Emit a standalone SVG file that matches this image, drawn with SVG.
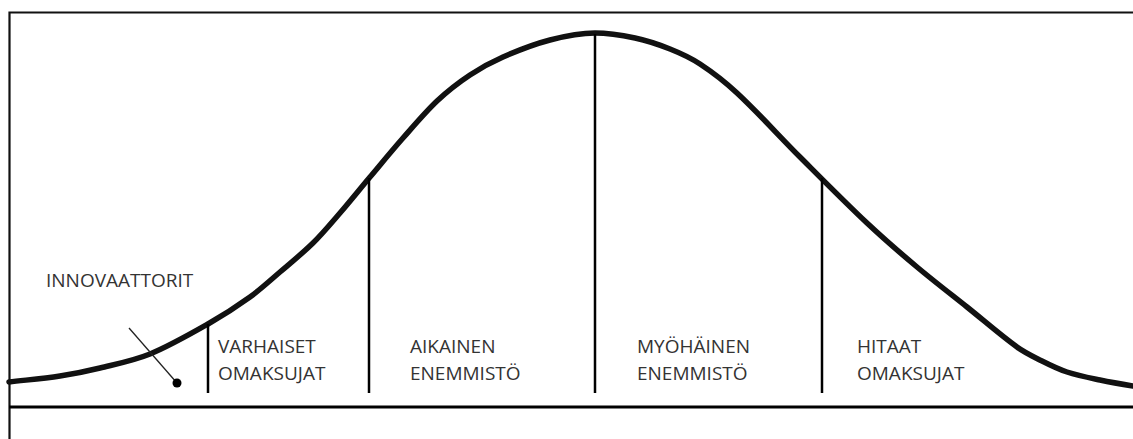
<svg xmlns="http://www.w3.org/2000/svg" width="1133" height="439" viewBox="0 0 1133 439">
<style>
.lbl{font-family:"Open Sans","Liberation Sans",sans-serif;font-size:19px;fill:#333}
.div{stroke:#000;stroke-width:2.5;fill:none}
.frame{stroke:#111;stroke-width:2.2;fill:none}
</style>
<rect width="1133" height="439" fill="#fff"/>
<g id="frame">
<path class="frame" d="M9.5 440 V12.5 H1140"/>
<line x1="9" y1="407" x2="1140" y2="407" stroke="#000" stroke-width="3"/>
</g>
<g id="curve">
<path d="M9 382 C26 380 43 378.6 60 376 C73.3 373.9 86.7 371.3 100 368 C116.7 363.9 133.3 360.8 150 354 C169.3 346.1 188.7 335 208 324 C222 316 236 307.1 250 297 C260 289.8 270 280.6 280 272 C291 262.6 302 253.8 313 243 C322 234.2 331 223.4 340 213 C350 201.4 360 188.9 370 177 C381 163.9 392 150.5 403 138 C414.3 125.2 425.7 111.7 437 101 C448 90.7 459 82.3 470 75 C481 67.7 492 61.8 503 57 C518.7 50.1 534.3 44.1 550 40 C565 36.1 580 33 595 33 C608.3 33 621.7 35.2 635 38 C646.7 40.5 658.3 44.3 670 49 C680 53 690 57.4 700 64 C712.3 72.1 724.7 81.5 737 93 C758 112.5 779 136 800 157 C822.3 179.3 844.7 202 867 223 C883.7 238.7 900.3 253 917 267 C933.7 281 950.3 293.7 967 307 C983.7 320.3 1000.3 335 1017 347 C1025.3 353 1033.7 356.8 1042 361 C1050.3 365.2 1058.7 369.3 1067 372 C1078 375.6 1089 377.7 1100 380 C1111 382.3 1122 384.2 1133 386 C1137 386.7 1141 387 1145 387.5" fill="none" stroke="#111" stroke-width="5.5" stroke-linecap="round"/>
</g>
<g id="connectors">
<line class="div" x1="208" y1="324" x2="208" y2="393"/>
<line class="div" x1="369" y1="178" x2="369" y2="393"/>
<line class="div" x1="595" y1="34" x2="595" y2="393"/>
<line class="div" x1="822" y1="178" x2="822" y2="393"/>
<line x1="129" y1="328" x2="177" y2="383" stroke="#222" stroke-width="1.3"/>
<circle cx="177" cy="383" r="4.5" fill="#000"/>
</g>
<g id="innovaattorit"><text class="lbl" x="46" y="287">INNOVAATTORIT</text></g>
<g id="varhaiset"><text class="lbl" x="218" y="353">VARHAISET</text><text class="lbl" x="218" y="380">OMAKSUJAT</text></g>
<g id="aikainen"><text class="lbl" x="410" y="353">AIKAINEN</text><text class="lbl" x="410" y="380">ENEMMISTÖ</text></g>
<g id="myohainen"><text class="lbl" x="637" y="353">MYÖHÄINEN</text><text class="lbl" x="637" y="380">ENEMMISTÖ</text></g>
<g id="hitaat"><text class="lbl" x="857" y="353">HITAAT</text><text class="lbl" x="857" y="380">OMAKSUJAT</text></g>
</svg>
